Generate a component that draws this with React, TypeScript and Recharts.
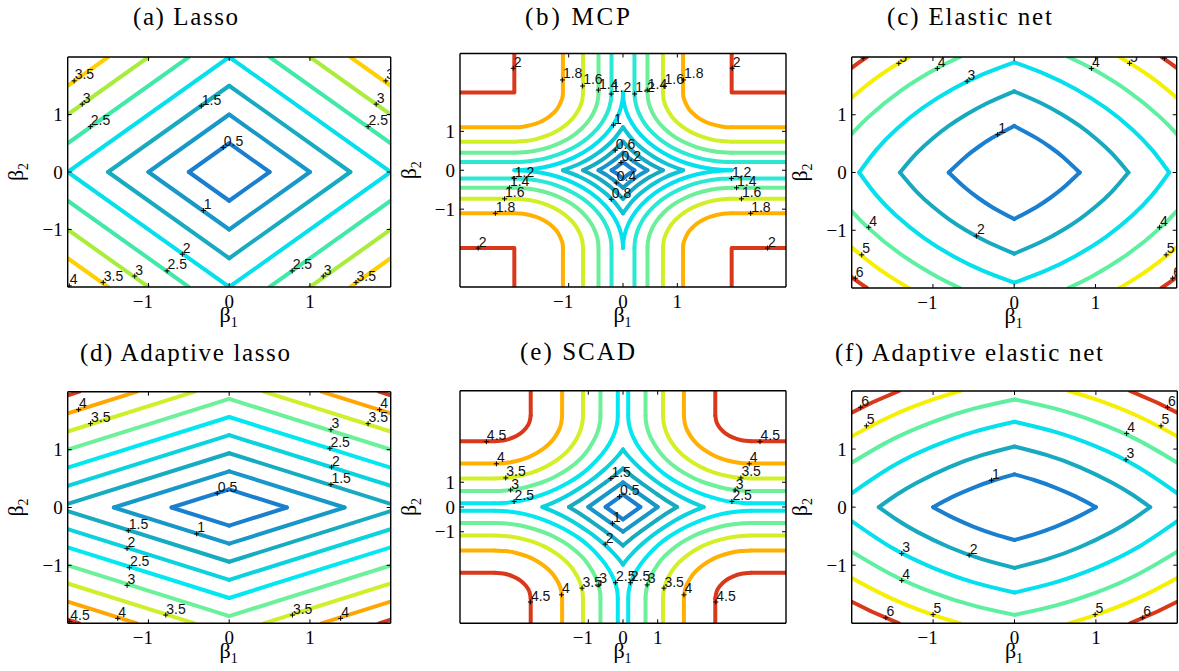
import React from 'react';
import { ComposedChart, Line, Scatter, XAxis, YAxis } from 'recharts';

type P = [number, number];
type Lab = { x: number; y: number; t: string };

const SERIF = '"Liberation Serif", "Times New Roman", serif';
const SANS = '"Liberation Sans", Arial, Helvetica, sans-serif';

// ---------------- data ----------------
const tickValues = [-1, 0, 1];

// (a) Lasso: first-quadrant pieces of each contour level
const aLevels = [0.5, 1, 1.5, 2, 2.5, 3, 3.5];
const aArcs: P[][][] = [
  [[[0.5, 0], [0, 0.5]]],
  [[[1, 0], [0, 1]]],
  [[[1.5, 0], [0, 1.5]]],
  [[[2, 0], [0, 2]]],
  [[[2, 0.5], [0.5, 2]]],
  [[[2, 1], [1, 2]]],
  [[[2, 1.5], [1.5, 2]]],
];
const aLabels: Lab[] = [
  { x: -1.92, y: 1.585, t: '3.5' }, { x: -1.82, y: 1.18, t: '3' }, { x: -1.72, y: 0.79, t: '2.5' },
  { x: -0.345, y: 1.147, t: '1.5' }, { x: -0.074, y: 0.426, t: '0.5' }, { x: 1.94, y: 1.585, t: '3.5' },
  { x: 1.82, y: 1.18, t: '3' }, { x: 1.72, y: 0.79, t: '2.5' }, { x: -0.32, y: -0.67, t: '1' },
  { x: -0.58, y: -1.43, t: '2' }, { x: -0.77, y: -1.72, t: '2.5' }, { x: -1.17, y: -1.81, t: '3' },
  { x: -1.56, y: -1.92, t: '3.5' }, { x: -1.98, y: -1.98, t: '4' }, { x: 0.78, y: -1.72, t: '2.5' },
  { x: 1.165, y: -1.81, t: '3' }, { x: 1.57, y: -1.92, t: '3.5' },
];

// (b) MCP
const bLevels = [0.2, 0.4, 0.6, 0.8, 1, 1.2, 1.4, 1.6, 1.8, 2];
const bArcs: P[][][] = [
  [[[0.2111, 0], [0.15, 0.0564], [0.1026, 0.1026], [0.0564, 0.15], [0, 0.2111]]],
  [[[0.4508, 0], [0.3, 0.1265], [0.2111, 0.2111], [0.1265, 0.3], [0, 0.4508]]],
  [[[0.7351, 0], [0.5, 0.1697], [0.3267, 0.3267], [0.1697, 0.5], [0, 0.7351]]],
  [[[1.1056, 0], [0.8, 0.167], [0.6, 0.3148], [0.4508, 0.4508], [0.3148, 0.6], [0.167, 0.8], [0, 1.1056]]],
  [[[2, 0], [1.8, 0.01], [1.5, 0.0635], [1.2, 0.167], [0.9, 0.3297], [0.5858, 0.5858], [0.3297, 0.9], [0.167, 1.2], [0.0635, 1.5], [0.01, 1.8], [0, 2]]],
  [
    [[0.2111, 3], [0.2111, 2]],
    [[0.2111, 2], [0.22, 1.822], [0.25, 1.629], [0.3, 1.443], [0.4, 1.2], [0.55, 0.9523], [0.7351, 0.7351], [0.9523, 0.55], [1.2, 0.4], [1.443, 0.3], [1.629, 0.25], [1.822, 0.22], [2, 0.2111]],
    [[2, 0.2111], [3, 0.2111]],
  ],
  [
    [[0.4508, 3], [0.4508, 2]],
    [[0.4508, 2], [0.46, 1.8315], [0.5, 1.6127], [0.6, 1.3367], [0.75, 1.0848], [0.9046, 0.9046], [1.0848, 0.75], [1.3367, 0.6], [1.6127, 0.5], [1.8315, 0.46], [2, 0.4508]],
    [[2, 0.4508], [3, 0.4508]],
  ],
  [
    [[0.7351, 3], [0.7351, 2]],
    [[0.7351, 2], [0.75, 1.806], [0.8, 1.6], [0.9, 1.3755], [1.0, 1.2254], [1.1056, 1.1056], [1.2254, 1.0], [1.3755, 0.9], [1.6, 0.8], [1.806, 0.75], [2, 0.7351]],
    [[2, 0.7351], [3, 0.7351]],
  ],
  [
    [[1.1056, 3], [1.1056, 2]],
    [[1.1056, 2], [1.12, 1.84], [1.2, 1.6], [1.28, 1.4693], [1.3675, 1.3675], [1.4693, 1.28], [1.6, 1.2], [1.84, 1.12], [2, 1.1056]],
    [[2, 1.1056], [3, 1.1056]],
  ],
  [[[2, 3], [2, 2], [3, 2]]],
];
const bLabels: Lab[] = [
  { x: -2.02, y: 2.62, t: '2' }, { x: 2.01, y: 2.62, t: '2' }, { x: -1.115, y: 2.32, t: '1.8' },
  { x: -0.743, y: 2.165, t: '1.6' }, { x: -0.453, y: 2.06, t: '1.4' }, { x: -0.217, y: 1.96, t: '1.2' },
  { x: 0.216, y: 1.96, t: '1.2' }, { x: 0.446, y: 2.06, t: '1.4' }, { x: 0.755, y: 2.165, t: '1.6' },
  { x: 1.115, y: 2.32, t: '1.8' }, { x: -0.175, y: 1.16, t: '1' }, { x: -0.143, y: 0.515, t: '0.6' },
  { x: -0.037, y: 0.198, t: '0.2' }, { x: -0.125, y: -0.327, t: '0.4' }, { x: -0.217, y: -0.747, t: '0.8' },
  { x: -2.0, y: -0.211, t: '1.2' }, { x: -2.09, y: -0.451, t: '1.4' }, { x: -2.18, y: -0.735, t: '1.6' },
  { x: -2.35, y: -1.106, t: '1.8' }, { x: 1.995, y: -0.211, t: '1.2' }, { x: 2.09, y: -0.451, t: '1.4' },
  { x: 2.18, y: -0.735, t: '1.6' }, { x: 2.35, y: -1.106, t: '1.8' }, { x: -2.665, y: -2.0, t: '2' },
  { x: 2.66, y: -2.0, t: '2' },
];

// (c) Elastic net
const cLevels = [1, 2, 3, 4, 5, 6];
const cArcs: P[][][] = [
  [[[0.806, 0], [0.6, 0.27], [0.4415, 0.4415], [0.27, 0.6], [0, 0.806]]],
  [[[1.406, 0], [1.2, 0.3345], [1.0, 0.594], [0.806, 0.806], [0.594, 1.0], [0.3345, 1.2], [0, 1.406]]],
  [[[1.908, 0], [1.7, 0.388], [1.45, 0.75], [1.122, 1.122], [0.75, 1.45], [0.388, 1.7], [0, 1.908]]],
  [[[2, 0.667], [1.8, 0.955], [1.406, 1.406], [0.955, 1.8], [0.667, 2]]],
  [[[2, 1.296], [1.85, 1.4725], [1.667, 1.667], [1.4725, 1.85], [1.296, 2]]],
  [[[2, 1.813], [1.908, 1.908], [1.813, 2]]],
];
const cLabels: Lab[] = [
  { x: -1.42, y: 1.89, t: '5' }, { x: -0.946, y: 1.8, t: '4' }, { x: -0.58, y: 1.58, t: '3' },
  { x: -1.86, y: 1.98, t: '6' }, { x: 0.95, y: 1.8, t: '4' }, { x: 1.42, y: 1.89, t: '5' },
  { x: 1.85, y: 1.98, t: '6' }, { x: -0.204, y: 0.655, t: '1' }, { x: -0.465, y: -1.098, t: '2' },
  { x: -1.79, y: -0.948, t: '4' }, { x: -1.876, y: -1.426, t: '5' }, { x: -1.955, y: -1.83, t: '6' },
  { x: 1.787, y: -0.948, t: '4' }, { x: 1.87, y: -1.426, t: '5' }, { x: 1.95, y: -1.83, t: '6' },
];

// (d) Adaptive lasso
const dLevels = [0.5, 1, 1.5, 2, 2.5, 3, 3.5, 4, 4.5];
const dArcs: P[][][] = [
  [[[0.7143, 0], [0, 0.3125]]],
  [[[1.4286, 0], [0, 0.625]]],
  [[[2, 0.0625], [0, 0.9375]]],
  [[[2, 0.375], [0, 1.25]]],
  [[[2, 0.6875], [0, 1.5625]]],
  [[[2, 1.0], [0, 1.875]]],
  [[[2, 1.3125], [0.4286, 2]]],
  [[[2, 1.625], [1.1429, 2]]],
  [[[2, 1.9375], [1.8571, 2]]],
];
const dLabels: Lab[] = [
  { x: -1.865, y: 1.69, t: '4' }, { x: -1.717, y: 1.448, t: '3.5' }, { x: 1.863, y: 1.69, t: '4' },
  { x: 1.72, y: 1.448, t: '3.5' }, { x: 1.26, y: 1.345, t: '3' }, { x: 1.247, y: 1.022, t: '2.5' },
  { x: 1.268, y: 0.698, t: '2' }, { x: 1.26, y: 0.397, t: '1.5' }, { x: -0.148, y: 0.244, t: '0.5' },
  { x: -0.403, y: -0.455, t: '1' }, { x: -1.25, y: -0.4, t: '1.5' }, { x: -1.265, y: -0.71, t: '2' },
  { x: -1.236, y: -1.04, t: '2.5' }, { x: -1.265, y: -1.346, t: '3' }, { x: -1.975, y: -1.97, t: '4.5' },
  { x: -1.38, y: -1.915, t: '4' }, { x: -0.785, y: -1.857, t: '3.5' }, { x: 0.783, y: -1.857, t: '3.5' },
  { x: 1.38, y: -1.915, t: '4' },
];

// (e) SCAD
const eLevels = [0.5, 1, 1.5, 2, 2.5, 3, 3.5, 4, 4.5];
const eArcs: P[][][] = [
  [[[0.5, 0], [0, 0.5]]],
  [[[1, 0], [0, 1]]],
  [[[1.5576, 0], [1.25, 0.2616], [1, 0.5]], [[1, 0.5], [0.5, 1]], [[0.5, 1], [0.2616, 1.25], [0, 1.5576]]],
  [[[2.3252, 0], [2.1, 0.124], [1.8, 0.319], [1.5, 0.546], [1.2, 0.807], [1, 1], [0.807, 1.2], [0.546, 1.5], [0.319, 1.8], [0.124, 2.1], [0, 2.3252]]],
  [
    [[0.15, 4.7], [0.15, 3.7]],
    [[0.15, 3.7], [0.16, 3.468], [0.2, 3.18], [0.3, 2.8], [0.5, 2.325], [0.75, 1.9], [1.0, 1.5576], [1.2628, 1.2628], [1.5576, 1.0], [1.9, 0.75], [2.325, 0.5], [2.8, 0.3], [3.18, 0.2], [3.468, 0.16], [3.7, 0.15]],
    [[3.7, 0.15], [4.7, 0.15]],
  ],
  [
    [[0.65, 4.7], [0.65, 3.7]],
    [[0.65, 3.7], [0.66, 3.468], [0.7, 3.18], [0.8, 2.8], [1.0, 2.325], [1.2, 1.988], [1.5576, 1.5576], [1.988, 1.2], [2.325, 1.0], [2.8, 0.8], [3.18, 0.7], [3.468, 0.66], [3.7, 0.65]],
    [[3.7, 0.65], [4.7, 0.65]],
  ],
  [
    [[1.154, 4.7], [1.154, 3.7]],
    [[1.154, 3.7], [1.17, 3.418], [1.25, 3.009], [1.4, 2.609], [1.6, 2.2613], [1.9, 1.9], [2.2613, 1.6], [2.609, 1.4], [3.009, 1.25], [3.418, 1.17], [3.7, 1.154]],
    [[3.7, 1.154], [4.7, 1.154]],
  ],
  [
    [[1.756, 4.7], [1.756, 3.7]],
    [[1.756, 3.7], [1.78, 3.394], [1.85, 3.102], [2.0, 2.757], [2.15, 2.526], [2.3252, 2.3252], [2.526, 2.15], [2.757, 2.0], [3.102, 1.85], [3.394, 1.78], [3.7, 1.756]],
    [[3.7, 1.756], [4.7, 1.756]],
  ],
  [
    [[2.6608, 4.7], [2.6608, 3.7]],
    [[2.6608, 3.7], [2.7, 3.417], [2.8, 3.18], [2.965, 2.965], [3.18, 2.8], [3.417, 2.7], [3.7, 2.6608]],
    [[3.7, 2.6608], [4.7, 2.6608]],
  ],
];
const eLabels: Lab[] = [
  { x: -3.94, y: 2.64, t: '4.5' }, { x: -3.65, y: 1.745, t: '4' }, { x: -3.38, y: 1.175, t: '3.5' },
  { x: -3.24, y: 0.687, t: '3' }, { x: -3.14, y: 0.222, t: '2.5' }, { x: 3.95, y: 2.64, t: '4.5' },
  { x: 3.64, y: 1.745, t: '4' }, { x: 3.4, y: 1.175, t: '3.5' }, { x: 3.235, y: 0.687, t: '3' },
  { x: 3.14, y: 0.222, t: '2.5' }, { x: -0.348, y: 1.15, t: '1.5' }, { x: -0.1, y: 0.42, t: '0.5' },
  { x: -0.3, y: -0.66, t: '1' }, { x: -0.513, y: -1.5, t: '2' }, { x: -2.67, y: -3.84, t: '4.5' },
  { x: -1.77, y: -3.55, t: '4' }, { x: -1.18, y: -3.28, t: '3.5' }, { x: -0.696, y: -3.15, t: '3' },
  { x: -0.214, y: -3.06, t: '2.5' }, { x: 0.212, y: -3.06, t: '2.5' }, { x: 0.696, y: -3.15, t: '3' },
  { x: 1.18, y: -3.28, t: '3.5' }, { x: 1.757, y: -3.55, t: '4' }, { x: 2.675, y: -3.84, t: '4.5' },
];

// (f) Adaptive elastic net
const fLevels = [1, 2, 3, 4, 5, 6];
const fArcs: P[][][] = [
  [[[1.0, 0], [0.75, 0.185], [0.5, 0.338], [0.25, 0.4636], [0, 0.565]]],
  [[[1.667, 0], [1.45, 0.213], [1.2, 0.4216], [0.8, 0.6906], [0.4, 0.895], [0, 1.045]]],
  [[[2, 0.239], [1.5, 0.704], [1.0, 1.045], [0.5, 1.295], [0, 1.47]]],
  [[[2, 0.765], [1.5, 1.167], [1.0, 1.47], [0.5, 1.6955], [0, 1.855]]],
  [[[2, 1.22], [1.5, 1.579], [1.0, 1.855], [0.667, 2]]],
  [[[2, 1.628], [1.75, 1.8015], [1.42, 2]]],
];
const fLabels: Lab[] = [
  { x: -1.89, y: 1.72, t: '6' }, { x: -1.82, y: 1.4, t: '5' }, { x: 1.88, y: 1.72, t: '6' },
  { x: 1.8, y: 1.4, t: '5' }, { x: 1.378, y: 1.27, t: '4' }, { x: 1.37, y: 0.816, t: '3' },
  { x: -0.283, y: 0.464, t: '1' }, { x: -0.557, y: -0.828, t: '2' }, { x: -1.385, y: -0.8, t: '3' },
  { x: -1.385, y: -1.265, t: '4' }, { x: -1.0, y: -1.85, t: '5' }, { x: -1.58, y: -1.905, t: '6' },
  { x: 0.99, y: -1.85, t: '5' }, { x: 1.575, y: -1.905, t: '6' },
];

// ---------------- styles ----------------
const aColors = ['#1b7fd0', '#1898c9', '#16abc0', '#05e0ec', '#40e9a8', '#aaec3c', '#ffd000'];
const bColors = ['#1b7fd0', '#1896ca', '#16a9c0', '#10c4d6', '#04e0ee', '#2ae8d2', '#6cef98', '#d2ef26', '#ffb000', '#d9391a'];
const cColors = ['#1b7fd0', '#16a9c0', '#05e0ec', '#5ef0a0', '#f6f000', '#d9391a'];
const dColors = ['#1b7fd0', '#1898c9', '#16abc0', '#0cd2de', '#02e8f0', '#6cf09a', '#cfef2a', '#ffa600', '#d9391a'];
const eColors = ['#1b7fd0', '#1898c9', '#16abc0', '#0cd2de', '#02e8f0', '#6cf09a', '#d4ef26', '#ffb000', '#d9391a'];
const fColors = ['#1b7fd0', '#16a9c0', '#05e0ec', '#5ef0a0', '#f6f000', '#d9391a'];

type Cfg = {
  title: string;
  titlePos: [number, number, number];
  cell: [number, number, number, number];
  box: [number, number, number, number];
  xd: [number, number];
  yd: [number, number];
  levels: number[];
  colors: string[];
  arcs: P[][][];
  labels: Lab[];
};

const panels: Cfg[] = [
  { title: '(a) Lasso', titlePos: [133, 25, 105], cell: [0, 0, 394, 335], box: [67.7, 57, 390.7, 287], xd: [-2, 2], yd: [-2, 2], levels: aLevels, colors: aColors, arcs: aArcs, labels: aLabels },
  { title: '(b) MCP', titlePos: [525, 25, 105], cell: [394, 0, 394, 335], box: [460, 53.5, 786, 287], xd: [-3, 3], yd: [-3, 3], levels: bLevels, colors: bColors, arcs: bArcs, labels: bLabels },
  { title: '(c) Elastic net', titlePos: [887, 25, 165], cell: [782, 0, 397, 335], box: [851.7, 57, 1176.7, 288], xd: [-2, 2], yd: [-2, 2], levels: cLevels, colors: cColors, arcs: cArcs, labels: cLabels },
  { title: '(d) Adaptive lasso', titlePos: [80, 361, 210], cell: [0, 335, 394, 336], box: [67.7, 391.7, 390.7, 623.3], xd: [-2, 2], yd: [-2, 2], levels: dLevels, colors: dColors, arcs: dArcs, labels: dLabels },
  { title: '(e) SCAD', titlePos: [520, 360, 115], cell: [394, 335, 394, 336], box: [460, 390.7, 786, 623.3], xd: [-4.7, 4.7], yd: [-4.7, 4.7], levels: eLevels, colors: eColors, arcs: eArcs, labels: eLabels },
  { title: '(f) Adaptive elastic net', titlePos: [835, 361, 268], cell: [782, 335, 397, 336], box: [851.7, 391, 1177.3, 623.3], xd: [-2, 2], yd: [-2, 2], levels: fLevels, colors: fColors, arcs: fArcs, labels: fLabels },
];

const SIGNS: P[] = [[1, 1], [-1, 1], [-1, -1], [1, -1]];

function buildLines(arcs: P[][][], colors: string[]) {
  const out: { key: string; color: string; type: 'natural' | 'linear'; data: { x: number; y: number }[] }[] = [];
  arcs.forEach((pieces, li) =>
    pieces.forEach((pc, pi) =>
      SIGNS.forEach(([sx, sy], qi) => {
        out.push({
          key: `l${li}-${pi}-${qi}`,
          color: colors[li],
          type: pc.length >= 4 ? 'natural' : 'linear',
          data: pc.map(([x, y]) => ({ x: sx * x, y: sy * y })),
        });
      })
    )
  );
  return out;
}

const fmt = (v: number) => (v < 0 ? '\u2212' + Math.abs(v) : String(v));

const LabelShape = (p: any) => {
  const { cx, cy } = p;
  const t = p.payload?.t ?? p.t;
  if (cx == null || cy == null) return <g />;
  return (
    <g>
      <line x1={cx - 2.5} x2={cx + 2.5} y1={cy} y2={cy} stroke="#000" strokeWidth={1} />
      <line x1={cx} x2={cx} y1={cy - 2.5} y2={cy + 2.5} stroke="#000" strokeWidth={1} />
      <text x={cx + 0.5} y={cy - 1.5} fontFamily={SANS} fontSize={14} fill="#111">{t}</text>
    </g>
  );
};

const AX = 1; // thickness reserved by each axis

function Panel({ cfg }: { cfg: Cfg }) {
  const [x0, y0, w, h] = cfg.cell;
  const [bl, bt, br, bb] = cfg.box;
  const L = bl - x0, T = bt - y0, R = br - x0, B = bb - y0;
  const margin = { left: L - AX, top: T, right: x0 + w - br, bottom: y0 + h - bb - AX };
  const lines = buildLines(cfg.arcs, cfg.colors);
  const axisLine = { stroke: '#000', strokeWidth: 1.4 };

  const Bottom = (p: any) => {
    const v = p.payload.value;
    const x = p.x;
    return (
      <g>
        <line x1={x} x2={x} y1={B} y2={B - 4} stroke="#000" strokeWidth={1} />
        <line x1={x} x2={x} y1={T} y2={T + 4} stroke="#000" strokeWidth={1} />
        <text x={x + (v < 0 ? -5.5 : 0)} y={B + 21} textAnchor="middle" fontFamily={SERIF} fontSize={19} fill="#000">{fmt(v)}</text>
        {v === 0 && (
          <text x={x - 0.5} y={B + 34.5} textAnchor="middle" fontFamily={SERIF} fontSize={22} fill="#000">
            β<tspan dy={5} fontSize={14}>1</tspan>
          </text>
        )}
      </g>
    );
  };
  const Left = (p: any) => {
    const v = p.payload.value;
    const y = p.y;
    const lx = L - 44.5;
    const [tl, tb, tw] = cfg.titlePos;
    return (
      <g>
        <line x1={L} x2={L + 4} y1={y} y2={y} stroke="#000" strokeWidth={1} />
        <line x1={R} x2={R - 4} y1={y} y2={y} stroke="#000" strokeWidth={1} />
        <text x={L - 5} y={y + 6.5} textAnchor="end" fontFamily={SERIF} fontSize={19} fill="#000">{fmt(v)}</text>
        {v === 0 && (
          <g>
            <line x1={L} x2={R} y1={T} y2={T} stroke="#000" strokeWidth={1.4} />
            <line x1={R} x2={R} y1={T} y2={B} stroke="#000" strokeWidth={1.4} />
            <text x={lx} y={y} transform={`rotate(-90 ${lx} ${y})`} textAnchor="middle" fontFamily={SERIF} fontSize={22} fill="#000">
              β<tspan dy={5} fontSize={14}>2</tspan>
            </text>
            <text x={tl - x0} y={tb - y0} fontFamily={SERIF} fontSize={25} fill="#000" textLength={tw} lengthAdjust="spacing">
              {cfg.title}
            </text>
          </g>
        )}
      </g>
    );
  };

  return (
    <div style={{ position: 'absolute', left: x0, top: y0, width: w, height: h }}>
      <ComposedChart width={w} height={h} margin={margin}>
        <XAxis xAxisId="b" type="number" dataKey="x" domain={cfg.xd} ticks={tickValues} allowDataOverflow height={AX}
          tickSize={0} tickMargin={0} tickLine={false} axisLine={axisLine} tick={Bottom} interval={0} />
        <YAxis yAxisId="l" type="number" domain={cfg.yd} ticks={tickValues} allowDataOverflow width={AX}
          tickSize={0} tickMargin={0} tickLine={false} axisLine={axisLine} tick={Left} interval={0} />
        {lines.map((l) => (
          <Line key={l.key} xAxisId="b" yAxisId="l" data={l.data} dataKey="y" type={l.type} stroke={l.color}
            strokeWidth={4} dot={false} activeDot={false} isAnimationActive={false} strokeLinecap="round" strokeLinejoin="round" />
        ))}
        <Scatter xAxisId="b" yAxisId="l" data={cfg.labels} dataKey="y" shape={LabelShape} isAnimationActive={false} />
      </ComposedChart>
    </div>
  );
}

export default function App() {
  return (
    <div style={{ position: 'absolute', left: 0, top: 0, width: 1179, height: 671, background: '#fff', overflow: 'hidden' }}>
      {panels.map((cfg) => (
        <Panel key={cfg.title} cfg={cfg} />
      ))}
    </div>
  );
}
